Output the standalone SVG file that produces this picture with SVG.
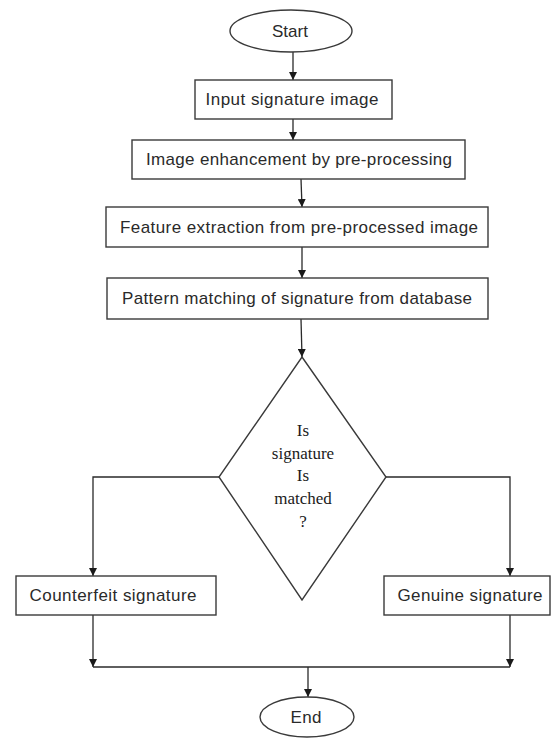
<svg xmlns="http://www.w3.org/2000/svg" width="552" height="738" viewBox="0 0 552 738">
<style>
.shape{fill:#ffffff;stroke:#3a3a3a;stroke-width:1.4}
.lbl{font-family:"Liberation Sans",Arial,sans-serif;font-size:17px;fill:#2a2a2a;text-anchor:middle}
.q{font-family:"Liberation Serif","Times New Roman",serif;font-size:17px;fill:#1a1a1a;text-anchor:middle}
.conn{fill:none;stroke:#2a2a2a;stroke-width:1.3}
</style>
<defs>
<marker id="arr" viewBox="0 0 10 10" refX="10" refY="5" markerWidth="8" markerHeight="8" markerUnits="userSpaceOnUse" orient="auto">
<path d="M0,0 L10,5 L0,10 Z" fill="#1a1a1a"/>
</marker>
</defs>
<rect width="552" height="738" fill="#ffffff"/>
<g id="connectors">
<path class="conn" d="M293,52 L293,80" marker-end="url(#arr)"/>
<path class="conn" d="M293,119 L293,140" marker-end="url(#arr)"/>
<path class="conn" d="M301,179 L302,207" marker-end="url(#arr)"/>
<path class="conn" d="M302,247 L302,278" marker-end="url(#arr)"/>
<path class="conn" d="M301,319 L302,357" marker-end="url(#arr)"/>
<path class="conn" d="M219,477 L93,477 L93,576" marker-end="url(#arr)"/>
<path class="conn" d="M386,477 L510,477 L510,576" marker-end="url(#arr)"/>
<path class="conn" d="M93,615 L93,667" marker-end="url(#arr)"/>
<path class="conn" d="M510,615 L510,667" marker-end="url(#arr)"/>
<path class="conn" d="M93,667 L510,667"/>
<path class="conn" d="M308,667 L308,697" marker-end="url(#arr)"/>
</g>
<g id="start">
<ellipse class="shape" cx="291" cy="31" rx="61" ry="21"/>
<text class="lbl" x="290" y="37" textLength="36" lengthAdjust="spacing">Start</text>
</g>
<g id="input">
<rect class="shape" x="195" y="80" width="197" height="39"/>
<text class="lbl" x="292" y="105" textLength="173" lengthAdjust="spacing">Input signature image</text>
</g>
<g id="enhance">
<rect class="shape" x="132" y="140" width="333" height="39"/>
<text class="lbl" x="299" y="165" textLength="306" lengthAdjust="spacing">Image enhancement by pre-processing</text>
</g>
<g id="feature">
<rect class="shape" x="106" y="207" width="382" height="40"/>
<text class="lbl" x="299" y="233" textLength="358" lengthAdjust="spacing">Feature extraction from pre-processed image</text>
</g>
<g id="pattern">
<rect class="shape" x="107" y="278" width="381" height="41"/>
<text class="lbl" x="297" y="304" textLength="350" lengthAdjust="spacing">Pattern matching of signature from database</text>
</g>
<g id="decision">
<polygon class="shape" points="302,357 386,477 302,600 219,477"/>
<text class="q" x="303" y="436">Is</text>
<text class="q" x="303" y="459">signature</text>
<text class="q" x="303" y="481">Is</text>
<text class="q" x="303" y="504">matched</text>
<text class="q" x="303" y="527">?</text>
</g>
<g id="counterfeit">
<rect class="shape" x="16" y="576" width="200" height="39"/>
<text class="lbl" x="113" y="601" textLength="167" lengthAdjust="spacing">Counterfeit signature</text>
</g>
<g id="genuine">
<rect class="shape" x="384" y="576" width="166" height="39"/>
<text class="lbl" x="470" y="601" textLength="145" lengthAdjust="spacing">Genuine signature</text>
</g>
<g id="end">
<ellipse class="shape" cx="307" cy="717" rx="47" ry="20"/>
<text class="lbl" x="306" y="723" textLength="31" lengthAdjust="spacing">End</text>
</g>
</svg>
